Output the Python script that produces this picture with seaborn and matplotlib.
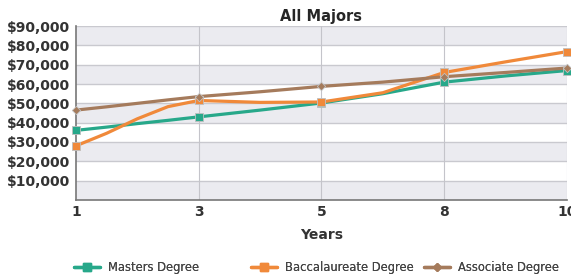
import numpy as np
import pandas as pd
import matplotlib.pyplot as plt
import seaborn as sns
from matplotlib.lines import Line2D

# =====================================
# DATA
# =====================================

year_labels = ["1", "3", "5", "8", "10"]

# position along the category axis (0 = year 1 ... 4 = year 10)
pos = [0, 0.25, 0.5, 0.75, 1, 1.5, 2, 2.5, 3, 3.5, 4]

masters = [36000, 37700, 39500, 41200, 43000, 46500, 50200, 55000, 61000, 64200, 67000]
bacc = [28000, 34500, 42000, 48300, 51500, 50500, 50700, 55500, 66000, 71500, 76800]
assoc = [46500, 48200, 50000, 51800, 53500, 56000, 58800, 61000, 63800, 66000, 68300]

series = ["Masters Degree", "Baccalaureate Degree", "Associate Degree"]
colors = ["#27a88a", "#f0893a", "#a57b5c"]
markers = ["s", "s", "D"]

rows = []
for name, vals in zip(series, [masters, bacc, assoc]):
    for p, v in zip(pos, vals):
        rows.append({"pos": p, "salary": v, "degree": name})
df = pd.DataFrame(rows)

# =====================================
# PLOT
# =====================================

sns.set_style("white")

fig = plt.figure(figsize=(5.71, 2.78), dpi=100)
ax = fig.add_axes([0.133, 0.281, 0.860, 0.625])

# alternating bands
for lo in range(0, 90000, 20000):
    ax.axhspan(lo, lo + 10000, color="#ebebf0", zorder=0, lw=0)
for y in range(10000, 100000, 10000):
    ax.axhline(y, color="#c9c9cf", lw=1, zorder=1)
for x in [1, 2, 3, 4]:
    ax.axvline(x, color="#c4c4ca", lw=0.8, zorder=1)

sns.lineplot(data=df, x="pos", y="salary", hue="degree", palette=colors,
             hue_order=series, lw=2.3, legend=False, ax=ax, zorder=3)

for name, c, m in zip(series, colors, markers):
    sub = df[(df["degree"] == name) & (df["pos"] == df["pos"].round())]
    ax.scatter(sub["pos"], sub["salary"], marker=m, s=30 if m == "s" else 18,
               color=c, edgecolor="#bfbfbf", linewidth=0.6, zorder=4, clip_on=False)

ax.set_xlim(0, 4)
ax.set_ylim(0, 90000)
ax.set_xticks(range(5))
ax.set_xticklabels(year_labels, fontsize=10, fontweight="bold", color="#333333")
ax.set_yticks(range(10000, 100000, 10000))
ax.set_yticklabels(["${:,}".format(v) for v in range(10000, 100000, 10000)],
                   fontsize=10, fontweight="bold", color="#333333")
ax.tick_params(length=0, pad=4)
ax.set_xlabel("Years", fontsize=10, fontweight="bold", color="#333333", labelpad=6)
ax.set_ylabel("")
ax.set_title("All Majors", fontsize=10.5, fontweight="bold", pad=4)

for s in ["top", "right"]:
    ax.spines[s].set_visible(False)
for s in ["left", "bottom"]:
    ax.spines[s].set_color("#777777")
    ax.spines[s].set_linewidth(1.2)

# legend entries placed one by one (uneven spacing in the original)
leg_x = [0.115, 0.425, 0.728]
for name, c, m, lx in zip(series, colors, markers, leg_x):
    h = Line2D([0], [0], color=c, lw=2.4, marker=m, markersize=6 if m == "s" else 4.5)
    leg = fig.legend([h], [name], loc="lower left", bbox_to_anchor=(lx, -0.015),
                     frameon=False, fontsize=8.3, handlelength=2.3, handletextpad=0.7,
                     borderpad=0.2, labelcolor="#444444")
    fig.add_artist(leg)

fig.savefig("out.png", dpi=100)
